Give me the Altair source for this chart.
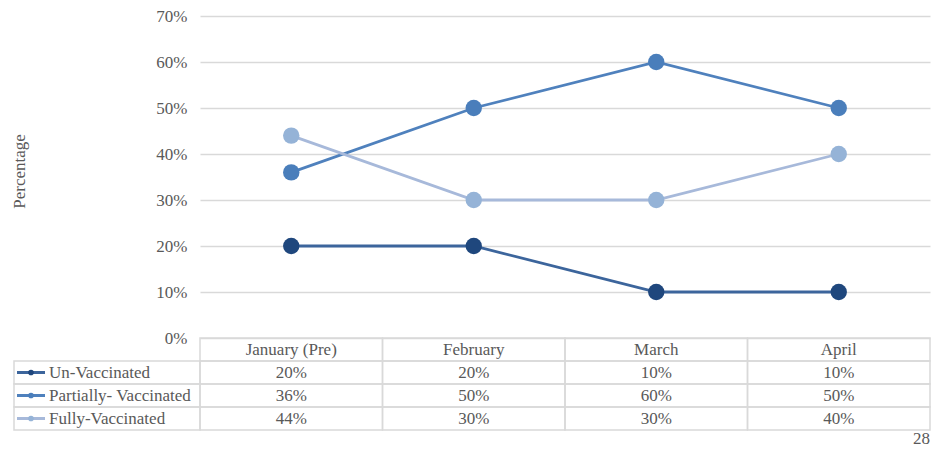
import altair as alt
import pandas as pd

months = ["January (Pre)", "February", "March", "April"]
series = ["Un-Vaccinated", "Partially- Vaccinated", "Fully-Vaccinated"]
un_vacc = [0.20, 0.20, 0.10, 0.10]
partial_vacc = [0.36, 0.50, 0.60, 0.50]
fully_vacc = [0.44, 0.30, 0.30, 0.40]
y_ticks = [0.0, 0.1, 0.2, 0.3, 0.4, 0.5, 0.6, 0.7]
page_number = "28"

line_colors = ["#3c659c", "#4f81bd", "#a7b9da"]
point_colors = ["#1f477d", "#4a7ebb", "#95b3d7"]

FONT = "Liberation Serif"
TXT = "#595959"
GRID = "#d9d9d9"
FS = 17
ROW = 0.05  # table row height in y units
PLOT_W = 730
BAND = PLOT_W / 4  # px per month column


def px(p):
    return p / BAND


vals = [un_vacc, partial_vacc, fully_vacc]

xs = alt.Scale(domain=[0, 4], nice=False, zero=False)
ys = alt.Scale(domain=[-0.2, 0.7], nice=False, zero=False)

yaxis = alt.Axis(
    values=y_ticks, format=".0%", grid=True, gridColor=GRID, gridWidth=1.3,
    domain=False, ticks=False, labelPadding=13,
    labelFont=FONT, labelFontSize=FS, labelColor=TXT,
    title="Percentage", titleFont=FONT, titleFontSize=FS, titleColor=TXT,
    titleFontWeight="normal", titleX=-181, titleY=155, titleAngle=270,
    titleAlign="center", titleBaseline="middle")

cell_style = dict(fillOpacity=0, stroke=GRID, strokeWidth=1.5)
text_style = dict(font=FONT, fontSize=FS, color=TXT, baseline="middle")

# header row
hdr = pd.DataFrame({
    "month": months,
    "x0": [float(i) for i in range(4)], "x1": [i + 1.0 for i in range(4)],
    "xc": [i + 0.5 for i in range(4)],
    "ry0": [0.0] * 4, "ry1": [-ROW] * 4, "ryc": [-ROW / 2] * 4,
})
hdr_cells = alt.Chart(hdr).mark_rect(**cell_style).encode(
    x=alt.X("x0:Q", scale=xs, axis=None), x2="x1:Q",
    y=alt.Y("ry0:Q", scale=ys, axis=yaxis), y2="ry1:Q",
)
hdr_text = alt.Chart(hdr).mark_text(**text_style).encode(
    x=alt.X("xc:Q", scale=xs), y=alt.Y("ryc:Q", scale=ys), text="month:N",
)

layers = [hdr_cells, hdr_text]
data_layers = []
for si, s in enumerate(series):
    d = pd.DataFrame({
        "month": months,
        "xc": [i + 0.5 for i in range(4)],
        "x0": [float(i) for i in range(4)], "x1": [i + 1.0 for i in range(4)],
        "value": vals[si],
        "label": [f"{round(v*100)}%" for v in vals[si]],
        "ry0": [-ROW * (si + 1)] * 4, "ry1": [-ROW * (si + 2)] * 4,
        "ryc": [-ROW * (si + 1.5)] * 4,
    })
    lg = pd.DataFrame({
        "series": [s],
        "cx0": [px(-186)], "cx1": [0.0],
        "lx0": [px(-183)], "lx1": [px(-155)],
        "dotx": [px(-169)], "tx": [px(-151)],
        "ry0": [-ROW * (si + 1)], "ry1": [-ROW * (si + 2)],
        "ryc": [-ROW * (si + 1.5)],
    })
    b = alt.Chart(d)
    lb = alt.Chart(lg)
    layers += [
        b.mark_rect(**cell_style).encode(
            x=alt.X("x0:Q", scale=xs), x2="x1:Q",
            y=alt.Y("ry0:Q", scale=ys), y2="ry1:Q"),
        b.mark_text(**text_style).encode(
            x=alt.X("xc:Q", scale=xs), y=alt.Y("ryc:Q", scale=ys), text="label:N"),
        lb.mark_rect(**cell_style).encode(
            x=alt.X("cx0:Q", scale=xs), x2="cx1:Q",
            y=alt.Y("ry0:Q", scale=ys), y2="ry1:Q"),
        lb.mark_rule(strokeWidth=3, color=line_colors[si]).encode(
            x=alt.X("lx0:Q", scale=xs), x2="lx1:Q",
            y=alt.Y("ryc:Q", scale=ys)),
        lb.mark_circle(size=32, opacity=1, color=point_colors[si]).encode(
            x=alt.X("dotx:Q", scale=xs), y=alt.Y("ryc:Q", scale=ys)),
        lb.mark_text(align="left", **text_style).encode(
            x=alt.X("tx:Q", scale=xs), y=alt.Y("ryc:Q", scale=ys), text="series:N"),
    ]
    data_layers += [
        b.mark_line(strokeWidth=2.8, color=line_colors[si]).encode(
            x=alt.X("xc:Q", scale=xs), y=alt.Y("value:Q", scale=ys)),
        b.mark_circle(size=270, opacity=1, color=point_colors[si]).encode(
            x=alt.X("xc:Q", scale=xs), y=alt.Y("value:Q", scale=ys)),
    ]

pg = pd.DataFrame({"t": [page_number], "px": [4.0], "py": [-0.2395]})
layers.append(
    alt.Chart(pg).mark_text(font=FONT, fontSize=FS, color=TXT, align="right",
                            baseline="bottom").encode(
        x=alt.X("px:Q", scale=xs), y=alt.Y("py:Q", scale=ys), text="t:N"))

chart = alt.layer(*(layers + data_layers)).properties(
    width=PLOT_W, height=414,
    autosize=alt.AutoSizeParams(type="none"),
    padding={"left": 192, "top": 8, "right": 1, "bottom": 19},
).configure_view(strokeWidth=0)

chart.save("out.html", embed_options={"renderer": "svg", "actions": False})
